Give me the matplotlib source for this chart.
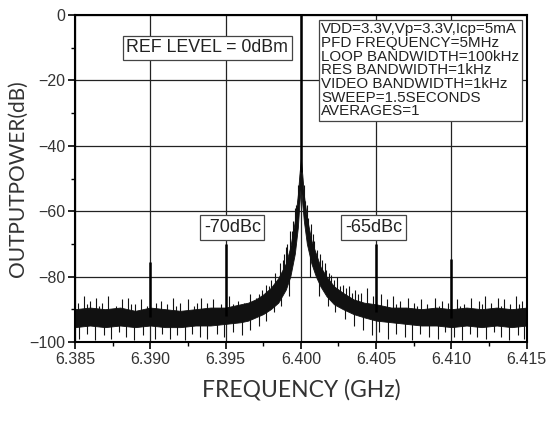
import numpy as np
import matplotlib.pyplot as plt
from matplotlib.ticker import MultipleLocator

# noise band envelope (GHz, dB)
env_f = [6.3850, 6.3860, 6.3870, 6.3880, 6.3890, 6.3900, 6.3910, 6.3920, 6.3930,
         6.3940, 6.3950, 6.3960, 6.3965, 6.3970, 6.3975, 6.3980, 6.3985, 6.3990,
         6.3993, 6.3996, 6.3998, 6.3999, 6.4000, 6.4001, 6.4002, 6.4004, 6.4007,
         6.4010, 6.4013, 6.4017, 6.4022, 6.4028, 6.4035, 6.4042, 6.4050, 6.4060,
         6.4070, 6.4080, 6.4090, 6.4100, 6.4110, 6.4120, 6.4130, 6.4140, 6.4150]
env_lo = [-95.5, -95, -95.5, -95, -95.5, -95, -95.5, -95.5, -95,
          -95, -94.5, -94, -93.5, -92.5, -91.5, -90, -88, -84,
          -80, -73, -65, -58, -52, -58, -63, -70, -76,
          -80, -83, -86, -88.5, -90, -91.5, -92.5, -93.5, -94,
          -94.5, -95, -95, -95.5, -95, -95.5, -95, -95.5, -95]
env_hi = [-90, -89.5, -90, -89.5, -90.5, -89.5, -90, -90.5, -90,
          -89.5, -89.5, -88.5, -88, -87, -85.5, -83.5, -80.5, -76,
          -71, -63, -55, -49, -44, -49, -55, -62, -69,
          -73, -77, -80, -83, -85, -87, -88, -88.5, -89.5,
          -89.5, -90, -89.5, -90, -89.5, -90, -89.5, -90, -89.5]

# upward noise spikes (GHz, tip dB)
up_f = [6.3852, 6.3856, 6.3858, 6.3860, 6.3864, 6.3866, 6.3868, 6.3872, 6.3877,
        6.3881, 6.3885, 6.3887, 6.3890, 6.3894, 6.3898, 6.3904, 6.3907, 6.3911,
        6.3915, 6.3917, 6.3920, 6.3925, 6.3929, 6.3931, 6.3934, 6.3938, 6.3942,
        6.3947, 6.3952, 6.3955, 6.3958, 6.3962, 6.3966, 6.3968, 6.3970, 6.3972,
        6.3974, 6.3977, 6.3979, 6.3980, 6.3983, 6.3984, 6.3986, 6.3988, 6.3989,
        6.3990, 6.3991, 6.3993, 6.3994, 6.3995, 6.3996, 6.3997, 6.3998,
        6.4002, 6.4003, 6.4004, 6.4005, 6.4007, 6.4008, 6.4009, 6.4011, 6.4013,
        6.4014, 6.4016, 6.4017, 6.4019, 6.4020, 6.4022, 6.4024, 6.4026, 6.4028,
        6.4030, 6.4032, 6.4034, 6.4036, 6.4038, 6.4040, 6.4044, 6.4048, 6.4050,
        6.4053, 6.4057, 6.4061, 6.4063, 6.4066, 6.4071, 6.4075, 6.4077, 6.4080,
        6.4084, 6.4089, 6.4092, 6.4094, 6.4098, 6.4104, 6.4106, 6.4108, 6.4113,
        6.4118, 6.4120, 6.4122, 6.4126, 6.4131, 6.4133, 6.4135, 6.4139, 6.4143,
        6.4145, 6.4147]
up_top = [-88, -86, -88.5, -87.5, -86.5, -89, -88, -86, -89,
          -87, -86.5, -88.5, -88.5, -87, -89, -88, -87.5, -88.5,
          -86.5, -89, -88, -87, -89, -88, -86.5, -88, -87,
          -88.5, -86, -88.5, -87.5, -88, -85.5, -87.5, -86.5, -85.5,
          -84, -82.5, -83, -81, -79, -81, -76, -75, -73,
          -71, -70, -66, -66, -63, -59, -58, -52,
          -52, -57, -58, -62, -64, -67, -69, -72, -73,
          -75, -76, -78, -79, -79.5, -81, -80, -83, -82.5,
          -83.5, -83, -85, -84, -85.5, -85, -83.5, -86, -87.5,
          -85.5, -87, -86, -88.5, -87.5, -86.5, -88, -89, -87,
          -88.5, -86.5, -89, -87.5, -88, -87, -89, -88.5, -86.5,
          -87.5, -88.5, -86, -88, -86.5, -89, -87, -88.5, -86,
          -88.5, -87.5]

# downward noise spikes (GHz, bottom dB)
dn_f = [6.3853, 6.3858, 6.3863, 6.3869, 6.3874, 6.3879, 6.3884, 6.3889, 6.3895,
        6.3903, 6.3908, 6.3913, 6.3918, 6.3923, 6.3928, 6.3933, 6.3938, 6.3944,
        6.3949, 6.3955, 6.3961, 6.3966, 6.3972, 6.3977, 6.3982, 6.3987, 6.3992,
        6.4006, 6.4012, 6.4018, 6.4023, 6.4029, 6.4035, 6.4041, 6.4047, 6.4052,
        6.4058, 6.4063, 6.4069, 6.4074, 6.4079, 6.4085, 6.4091, 6.4096, 6.4102,
        6.4107, 6.4112, 6.4117, 6.4123, 6.4128, 6.4133, 6.4138, 6.4144, 6.4148]
dn_bot = [-99, -97.5, -99.5, -98, -99, -97, -98.5, -99.5, -98,
          -99, -97.5, -99, -98, -99.5, -97.5, -98.5, -99, -97.5,
          -98.5, -97, -98, -96.5, -95, -93.5, -91, -89, -86,
          -80, -86, -89, -91, -93, -95, -96.5, -98, -97,
          -99, -97.5, -98.5, -99.5, -97.5, -98.5, -99, -97, -98.5,
          -99.5, -97.5, -98.5, -99, -97, -98.5, -99.5, -98, -99]

# carrier and reference spurs
spur_f = [6.390, 6.395, 6.400, 6.405, 6.410]
spur_top = [-75.5, -70, 0, -70, -74.5]

info = ("VDD=3.3V,Vp=3.3V,Icp=5mA\nPFD FREQUENCY=5MHz\nLOOP BANDWIDTH=100kHz\n"
        "RES BANDWIDTH=1kHz\nVIDEO BANDWIDTH=1kHz\nSWEEP=1.5SECONDS\nAVERAGES=1")

plt.rcParams['font.family'] = ['Liberation Sans', 'DejaVu Sans']

fig = plt.figure(figsize=(5.51, 4.21), dpi=100)
ax = fig.add_axes([0.136, 0.188, 0.820, 0.776])

ax.grid(True, color='#222222', lw=0.9, zorder=0)

mid = (np.array(env_lo) + np.array(env_hi)) / 2
ax.fill_between(env_f, env_lo, env_hi, color='#111111', lw=0.6, zorder=2)
ax.vlines(up_f, np.interp(up_f, env_f, mid), up_top, color='#111111', lw=0.8, zorder=2)
ax.vlines(dn_f, dn_bot, np.interp(dn_f, env_f, mid), color='#111111', lw=0.8, zorder=2)
ax.vlines(spur_f, np.interp(spur_f, env_f, mid), spur_top, color='black', lw=1.8, zorder=3)

ax.set_xlim(6.385, 6.415)
ax.set_ylim(-100, 0)
ax.xaxis.set_minor_locator(MultipleLocator(0.0025))
ax.yaxis.set_major_locator(MultipleLocator(20))
ax.yaxis.set_minor_locator(MultipleLocator(10))
ax.set_xticks([6.385, 6.390, 6.395, 6.400, 6.405, 6.410, 6.415])
ax.set_xticklabels(['6.385', '6.390', '6.395', '6.400', '6.405', '6.410', '6.415'])
ax.tick_params(which='major', direction='out', length=5, width=1.2, labelsize=11.5,
               labelcolor='#333333', pad=2)
ax.tick_params(which='minor', direction='out', length=3, width=1.0)
for s in ax.spines.values():
    s.set_linewidth(1.5)

ax.set_xlabel('FREQUENCY (GHz)', family=['Lato', 'DejaVu Sans'], fontsize=16.5,
              color='#333333', labelpad=9)
ax.set_ylabel('OUTPUTPOWER(dB)', family=['Lato', 'DejaVu Sans'], fontsize=15,
              color='#333333', labelpad=1)

box = dict(boxstyle='square,pad=0.2', fc='white', ec='#444444', lw=0.9)
ax.text(6.39379, -10, 'REF LEVEL = 0dBm', fontsize=12.8, color='#222222',
        ha='center', va='center', bbox=box, zorder=5)
ax.text(6.39545, -65, '-70dBc', fontsize=13, color='#222222',
        ha='center', va='center', bbox=box, zorder=5)
ax.text(6.40483, -65, '-65dBc', fontsize=13, color='#222222',
        ha='center', va='center', bbox=box, zorder=5)
ax.text(6.40135, -2.2, info, fontsize=10.9, color='#222222', linespacing=0.97,
        ha='left', va='top', bbox=dict(boxstyle='square,pad=0.15', fc='white',
                                        ec='#444444', lw=0.9), zorder=5)

fig.savefig('out.png', dpi=100)
